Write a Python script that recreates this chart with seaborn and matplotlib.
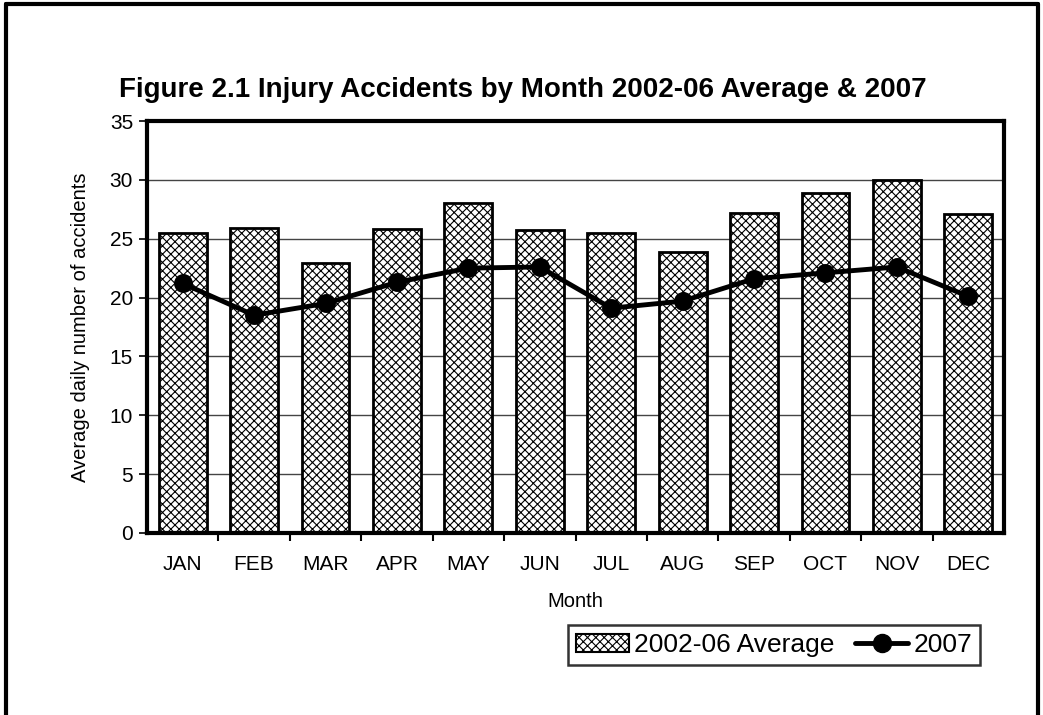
import numpy as np
import pandas as pd
import seaborn as sns
import matplotlib.pyplot as plt
from matplotlib.patches import Patch
from matplotlib.lines import Line2D

months = ['JAN', 'FEB', 'MAR', 'APR', 'MAY', 'JUN', 'JUL', 'AUG', 'SEP', 'OCT', 'NOV', 'DEC']
avg_0206 = [25.5, 25.9, 22.9, 25.8, 28.0, 25.7, 25.5, 23.9, 27.2, 28.9, 30.0, 27.1]
acc_2007 = [21.2, 18.5, 19.5, 21.3, 22.5, 22.6, 19.1, 19.7, 21.6, 22.1, 22.6, 20.1]
y_ticks = [0, 5, 10, 15, 20, 25, 30, 35]

sns.set_style('white')
plt.rcParams['font.family'] = ['Liberation Sans', 'DejaVu Sans']
plt.rcParams['text.color'] = 'black'
plt.rcParams['axes.labelcolor'] = 'black'
plt.rcParams['xtick.color'] = 'black'
plt.rcParams['ytick.color'] = 'black'
plt.rcParams['hatch.color'] = '#7a7a7a'
plt.rcParams['hatch.linewidth'] = 0.8

df = pd.DataFrame({'Month': months, 'avg': avg_0206, 'y2007': acc_2007})

fig = plt.figure(figsize=(10.43, 7.15), dpi=100)
ax = fig.add_axes([147 / 1043, 1 - 533 / 715, (1004 - 147) / 1043, (533 - 121) / 715])

sns.barplot(data=df, x='Month', y='avg', color='white', edgecolor='black',
            linewidth=2, width=0.67, hatch='xxxx', ax=ax, zorder=2)
sns.pointplot(data=df, x='Month', y='y2007', color='black', markers='o',
              markersize=11, linewidth=3.5, ax=ax)
for c in ax.collections:
    c.set_zorder(4)
for l in ax.lines:
    l.set_zorder(4)

ax.set_ylim(0, 35)
ax.set_xlim(-0.5, 11.5)
ax.set_yticks(y_ticks)
ax.yaxis.grid(True, color='#444444', linewidth=1)
ax.set_axisbelow(True)
for s in ax.spines.values():
    s.set_visible(True)
    s.set_linewidth(3)
    s.set_color('black')

ax.tick_params(axis='y', direction='out', length=6, width=1.2, labelsize=15, left=True, pad=4)
ax.tick_params(axis='x', length=0, labelsize=15, pad=16)
ax.set_xticks(np.arange(0.5, 11, 1), minor=True)
ax.tick_params(axis='x', which='minor', direction='out', length=6, width=1.5, bottom=True)

ax.set_xlabel('Month', fontsize=14.5, labelpad=13)
ax.set_ylabel('Average daily number of accidents', fontsize=14.5, labelpad=14)

fig.text(523 / 1043, 1 - 90 / 715, 'Figure 2.1 Injury Accidents by Month 2002-06 Average & 2007',
         ha='center', va='center', fontsize=20, fontweight='bold')

handles = [Patch(facecolor='white', edgecolor='black', hatch='xxxx', linewidth=1.5),
           Line2D([0], [0], color='black', lw=3.5, marker='o', markersize=13)]
leg = fig.legend(handles, ['2002-06 Average', '2007'], loc='center',
                 bbox_to_anchor=(774 / 1043, 1 - 645 / 715), ncol=2, fontsize=19,
                 frameon=True, fancybox=False, edgecolor='black', handlelength=2.0,
                 handletextpad=0.2, columnspacing=0.8, borderpad=0.3)
leg.get_frame().set_linewidth(1.8)

# outer frame (open at the bottom)
fig.add_artist(Line2D([6 / 1043, 6 / 1043], [0, 1 - 4 / 715], color='black', lw=3, transform=fig.transFigure))
fig.add_artist(Line2D([6 / 1043, 1038 / 1043], [1 - 4 / 715, 1 - 4 / 715], color='black', lw=3, transform=fig.transFigure))
fig.add_artist(Line2D([1038 / 1043, 1038 / 1043], [0, 1 - 4 / 715], color='black', lw=3, transform=fig.transFigure))

fig.savefig('out.png', dpi=100, facecolor='white')
